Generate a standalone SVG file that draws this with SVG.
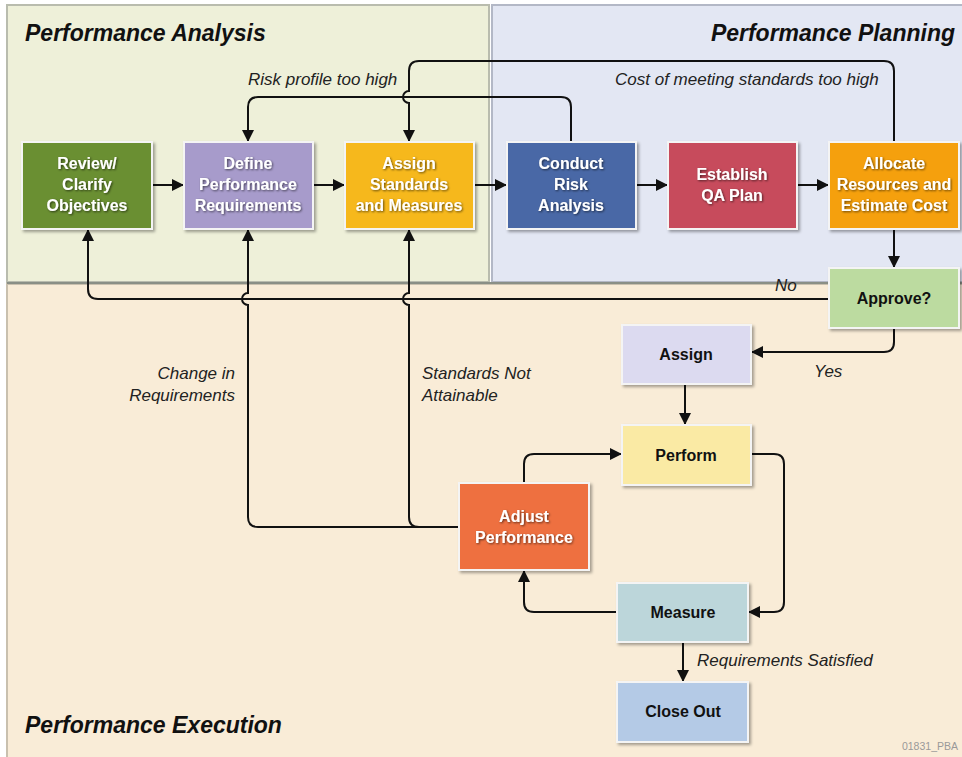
<svg xmlns="http://www.w3.org/2000/svg" width="962" height="757" viewBox="0 0 962 757">
<style>
.title{font-family:"Liberation Sans",Arial,sans-serif;font-weight:bold;font-style:italic;font-size:23px;fill:#111}
.wt{font-family:"Liberation Sans",Arial,sans-serif;font-weight:bold;font-size:16px;fill:#fff;text-anchor:middle}
.bt{font-family:"Liberation Sans",Arial,sans-serif;font-weight:bold;font-size:16px;fill:#111;text-anchor:middle}
.lbl{font-family:"Liberation Sans",Arial,sans-serif;font-style:italic;font-size:17px;fill:#222}
.box{stroke:#f4f4f4;stroke-width:2}
.ln{fill:none;stroke:#111;stroke-width:2}
</style>
<defs>
<marker id="ah" markerUnits="userSpaceOnUse" markerWidth="12" markerHeight="12" viewBox="0 0 12 12" refX="11" refY="6" orient="auto">
<path d="M0,0 L12,6 L0,12 Z" fill="#111"/>
</marker>
<filter id="sh" x="-10%" y="-10%" width="130%" height="130%">
<feDropShadow dx="2" dy="2" stdDeviation="1.5" flood-color="#000" flood-opacity="0.35"/>
</filter>
<filter id="ts" x="-10%" y="-20%" width="120%" height="150%">
<feDropShadow dx="1" dy="1" stdDeviation="0.8" flood-color="#000" flood-opacity="0.6"/>
</filter>
</defs>

<rect width="962" height="757" fill="#ffffff"/>
<g id="regions">
<rect x="7" y="5" width="482" height="277" fill="#eef0d9" stroke="#b9bcae" stroke-width="2"/>
<rect x="492" y="5" width="472" height="277" fill="#e3e7f3" stroke="#b3b8c6" stroke-width="2"/>
<rect x="7" y="284" width="957" height="475" fill="#f9ecd7" stroke="#c9c0ae" stroke-width="2"/>
<line x1="7" y1="283" x2="962" y2="283" stroke="#8a8f86" stroke-width="2"/>
<text class="title" x="25" y="41">Performance Analysis</text>
<text class="title" x="955" y="41" text-anchor="end">Performance Planning</text>
<text class="title" x="25" y="733">Performance Execution</text>
<text x="958" y="750" text-anchor="end" font-family="Liberation Sans,Arial,sans-serif" font-size="10.5" fill="#999">01831_PBA</text>
</g>

<g id="connectors">
<line class="ln" x1="153" y1="185" x2="183" y2="185" marker-end="url(#ah)"/>
<line class="ln" x1="314" y1="185" x2="344" y2="185" marker-end="url(#ah)"/>
<line class="ln" x1="475" y1="185" x2="506" y2="185" marker-end="url(#ah)"/>
<line class="ln" x1="637" y1="185" x2="667" y2="185" marker-end="url(#ah)"/>
<line class="ln" x1="798" y1="185" x2="828" y2="185" marker-end="url(#ah)"/>
<path class="ln" d="M571,142 V107 Q571,97 561,97 H258 Q248,97 248,107 V141" marker-end="url(#ah)"/>
<path class="ln" d="M894,142 V71 Q894,61 884,61 H419 Q409,61 409,71 V91 A6 6 0 0 0 409 103 V141" marker-end="url(#ah)"/>
<line class="ln" x1="894" y1="229" x2="894" y2="267" marker-end="url(#ah)"/>
<path class="ln" d="M829,299 H98 Q88,299 88,289 V230" marker-end="url(#ah)"/>
<path class="ln" d="M459,527 H258 Q248,527 248,517 V305 A6 6 0 0 1 248 293 V230" marker-end="url(#ah)"/>
<path class="ln" d="M419,527 Q409,527 409,517 V305 A6 6 0 0 1 409 293 V230" marker-end="url(#ah)"/>
<path class="ln" d="M894,329 V342 Q894,352 884,352 H752" marker-end="url(#ah)"/>
<line class="ln" x1="685" y1="385" x2="685" y2="424" marker-end="url(#ah)"/>
<path class="ln" d="M752,454 H774 Q784,454 784,464 V602 Q784,612 774,612 H749" marker-end="url(#ah)"/>
<path class="ln" d="M617,612 H534 Q524,612 524,602 V571" marker-end="url(#ah)"/>
<path class="ln" d="M524,483 V464 Q524,454 534,454 H621" marker-end="url(#ah)"/>
<line class="ln" x1="683" y1="643" x2="683" y2="681" marker-end="url(#ah)"/>
<text class="lbl" x="248" y="85">Risk profile too high</text>
<text class="lbl" x="615" y="85">Cost of meeting standards too high</text>
<text class="lbl" x="775" y="291">No</text>
<text class="lbl" x="814" y="377">Yes</text>
<text class="lbl" x="235" y="379" text-anchor="end">Change in</text>
<text class="lbl" x="235" y="401" text-anchor="end">Requirements</text>
<text class="lbl" x="422" y="379">Standards Not</text>
<text class="lbl" x="422" y="401">Attainable</text>
<text class="lbl" x="697" y="666">Requirements Satisfied</text>
</g>

<g id="review">
<rect class="box" x="22" y="142" width="130" height="87" fill="#6b8f32" filter="url(#sh)"/>
<g filter="url(#ts)"><text class="wt" x="87" y="169">Review/</text><text class="wt" x="87" y="190">Clarify</text><text class="wt" x="87" y="211">Objectives</text></g>
</g>
<g id="define">
<rect class="box" x="184" y="142" width="129" height="87" fill="#a79bcb" filter="url(#sh)"/>
<g filter="url(#ts)"><text class="wt" x="248" y="169">Define</text><text class="wt" x="248" y="190">Performance</text><text class="wt" x="248" y="211">Requirements</text></g>
</g>
<g id="assignstd">
<rect class="box" x="345" y="142" width="129" height="87" fill="#f6b81a" filter="url(#sh)"/>
<g filter="url(#ts)"><text class="wt" x="409" y="169">Assign</text><text class="wt" x="409" y="190">Standards</text><text class="wt" x="409" y="211">and Measures</text></g>
</g>
<g id="risk">
<rect class="box" x="507" y="142" width="129" height="87" fill="#4a67a6" filter="url(#sh)"/>
<g filter="url(#ts)"><text class="wt" x="571" y="169">Conduct</text><text class="wt" x="571" y="190">Risk</text><text class="wt" x="571" y="211">Analysis</text></g>
</g>
<g id="qa">
<rect class="box" x="668" y="142" width="129" height="87" fill="#c74b5c" filter="url(#sh)"/>
<g filter="url(#ts)"><text class="wt" x="732" y="180">Establish</text><text class="wt" x="732" y="201">QA Plan</text></g>
</g>
<g id="allocate">
<rect class="box" x="829" y="142" width="130" height="87" fill="#f5a00f" filter="url(#sh)"/>
<g filter="url(#ts)"><text class="wt" x="894" y="169">Allocate</text><text class="wt" x="894" y="190">Resources and</text><text class="wt" x="894" y="211">Estimate Cost</text></g>
</g>
<g id="approve">
<rect class="box" x="829" y="268" width="130" height="60" fill="#bcdba0" filter="url(#sh)"/>
<text class="bt" x="894" y="304">Approve?</text>
</g>
<g id="assign">
<rect class="box" x="622" y="325" width="129" height="59" fill="#dcdaf0" filter="url(#sh)"/>
<text class="bt" x="686" y="360">Assign</text>
</g>
<g id="perform">
<rect class="box" x="622" y="425" width="129" height="60" fill="#faeaa4" filter="url(#sh)"/>
<text class="bt" x="686" y="461">Perform</text>
</g>
<g id="adjust">
<rect class="box" x="459" y="483" width="130" height="87" fill="#ee7040" filter="url(#sh)"/>
<g filter="url(#ts)"><text class="wt" x="524" y="522">Adjust</text><text class="wt" x="524" y="543">Performance</text></g>
</g>
<g id="measure">
<rect class="box" x="617" y="583" width="131" height="59" fill="#bcd6da" filter="url(#sh)"/>
<text class="bt" x="683" y="618">Measure</text>
</g>
<g id="closeout">
<rect class="box" x="617" y="682" width="131" height="60" fill="#b4cae6" filter="url(#sh)"/>
<text class="bt" x="683" y="717">Close Out</text>
</g>
</svg>
